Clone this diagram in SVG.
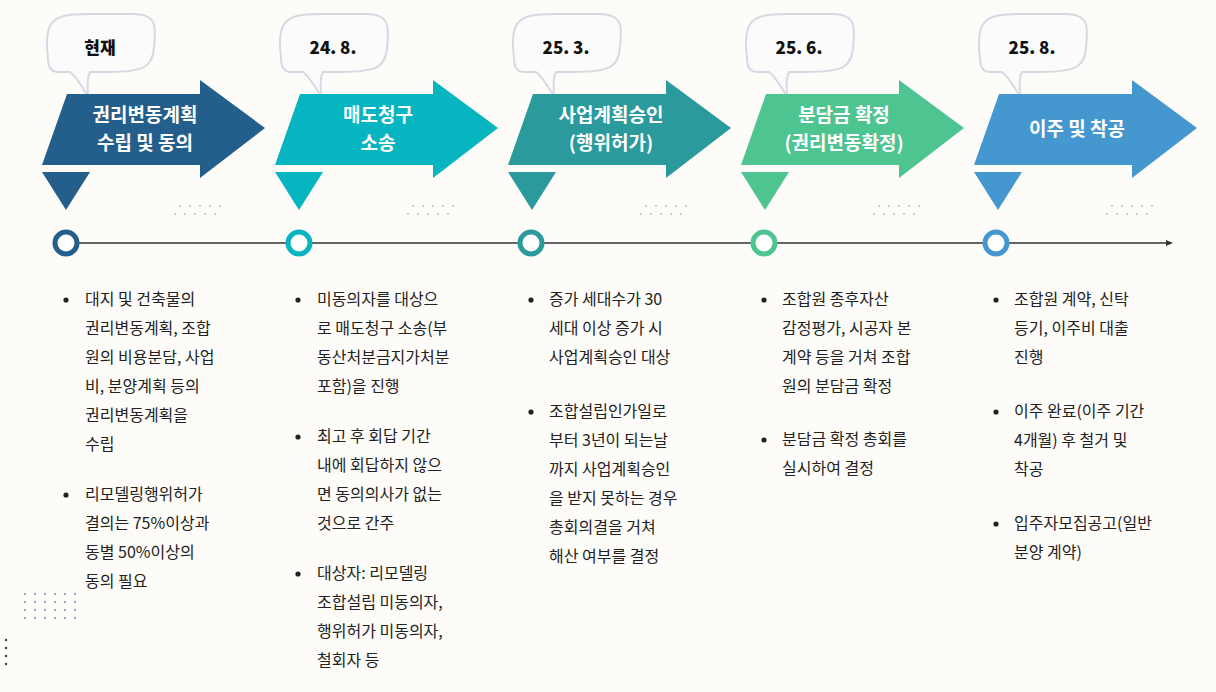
<svg xmlns="http://www.w3.org/2000/svg" width="1216" height="692" viewBox="0 0 1216 692">
<defs>
<style>
.t{font-family:"Noto Sans CJK KR","Noto Sans",sans-serif;font-size:19px;font-weight:bold;fill:#fff;text-anchor:middle}
.b{font-family:"Noto Sans CJK KR","Noto Sans",sans-serif;font-size:16px;fill:#222}
.d{font-family:"Noto Sans CJK KR","Noto Sans",sans-serif;font-size:17px;font-weight:900;fill:#111;text-anchor:middle}
.bub{fill:#fbfbfb;stroke:#d8d8e4;stroke-width:2}
.bub2{fill:none;stroke:#c9b9d4;stroke-width:1;stroke-dasharray:3 2}
.dot{fill:#bbb}
</style>
<g id="bubble">
<path d="M0,0 C-5,-38 5,-44 40,-44 L85,-44 C110,-44 108,-30 106,-10 C104,8 98,14 60,14 L42,14 C38,22 40,30 40,38 C34,30 30,20 22,14 L10,14 C2,14 0,8 0,0Z"/>
</g>
</defs>
<rect width="1216" height="692" fill="#fdfcf9"/>
<g id="connectors">
<line x1="66" y1="243" x2="1168" y2="243" stroke="#333" stroke-width="1.5"/>
<path d="M1166,240 L1173,243 L1166,246Z" fill="#333"/>
</g>
<g id="n1">
<use href="#bubble" x="48" y="58" class="bub"/>
<text x="100" y="54" class="d">현재</text>
<path d="M67,94 L200,94 L200,80 L265,128 L200,178 L200,165 L42,165Z" fill="#245e8a"/>
<path d="M42,172 L90,172 L66,210Z" fill="#245e8a"/>
<text x="145" y="122" class="t">권리변동계획</text><text x="145" y="150" class="t">수립 및 동의</text>
<circle cx="66" cy="243" r="11" fill="#fff" stroke="#245e8a" stroke-width="5"/>
<g class="b"><text x="85" y="305">대지 및 건축물의</text><text x="85" y="334">권리변동계획, 조합</text><text x="85" y="363">원의 비용분담, 사업</text><text x="85" y="392">비, 분양계획 등의</text><text x="85" y="421">권리변동계획을</text><text x="85" y="450">수립</text>
<text x="85" y="500">리모델링행위허가</text><text x="85" y="529">결의는 75%이상과</text><text x="85" y="558">동별 50%이상의</text><text x="85" y="587">동의 필요</text></g>
<circle cx="66" cy="300" r="2.6" fill="#222"/><circle cx="66" cy="495" r="2.6" fill="#222"/>
</g>
<g id="n2">
<use href="#bubble" x="281" y="58" class="bub"/>
<text x="333" y="54" class="d">24. 8.</text>
<path d="M300,94 L433,94 L433,80 L498,128 L433,178 L433,165 L275,165Z" fill="#06b5bf"/>
<path d="M275,172 L323,172 L299,210Z" fill="#06b5bf"/>
<text x="378" y="122" class="t">매도청구</text><text x="378" y="150" class="t">소송</text>
<circle cx="299" cy="243" r="11" fill="#fff" stroke="#06b5bf" stroke-width="5"/>
<g class="b"><text x="317" y="305">미동의자를 대상으</text><text x="317" y="334">로 매도청구 소송(부</text><text x="317" y="363">동산처분금지가처분</text><text x="317" y="392">포함)을 진행</text>
<text x="317" y="442">최고 후 회답 기간</text><text x="317" y="471">내에 회답하지 않으</text><text x="317" y="500">면 동의의사가 없는</text><text x="317" y="529">것으로 간주</text>
<text x="317" y="579">대상자: 리모델링</text><text x="317" y="608">조합설립 미동의자,</text><text x="317" y="637">행위허가 미동의자,</text><text x="317" y="666">철회자 등</text></g>
<circle cx="298" cy="300" r="2.6" fill="#222"/><circle cx="298" cy="437" r="2.6" fill="#222"/><circle cx="298" cy="574" r="2.6" fill="#222"/>
</g>
<g id="n3">
<use href="#bubble" x="514" y="58" class="bub"/>
<text x="566" y="54" class="d">25. 3.</text>
<path d="M533,94 L666,94 L666,80 L731,128 L666,178 L666,165 L508,165Z" fill="#2a9a9c"/>
<path d="M508,172 L556,172 L532,210Z" fill="#2a9a9c"/>
<text x="611" y="122" class="t">사업계획승인</text><text x="611" y="150" class="t">(행위허가)</text>
<circle cx="531" cy="243" r="11" fill="#fff" stroke="#2a9a9c" stroke-width="5"/>
<g class="b"><text x="549" y="305">증가 세대수가 30</text><text x="549" y="334">세대 이상 증가 시</text><text x="549" y="363">사업계획승인 대상</text>
<text x="549" y="417">조합설립인가일로</text><text x="549" y="446">부터 3년이 되는날</text><text x="549" y="475">까지 사업계획승인</text><text x="549" y="504">을 받지 못하는 경우</text><text x="549" y="533">총회의결을 거쳐</text><text x="549" y="562">해산 여부를 결정</text></g>
<circle cx="531" cy="300" r="2.6" fill="#222"/><circle cx="531" cy="412" r="2.6" fill="#222"/>
</g>
<g id="n4">
<use href="#bubble" x="747" y="58" class="bub"/>
<text x="799" y="54" class="d">25. 6.</text>
<path d="M766,94 L899,94 L899,80 L964,128 L899,178 L899,165 L741,165Z" fill="#4ec591"/>
<path d="M741,172 L789,172 L765,210Z" fill="#4ec591"/>
<text x="844" y="122" class="t">분담금 확정</text><text x="844" y="150" class="t">(권리변동확정)</text>
<circle cx="764" cy="243" r="11" fill="#fff" stroke="#4ec591" stroke-width="5"/>
<g class="b"><text x="782" y="305">조합원 종후자산</text><text x="782" y="334">감정평가, 시공자 본</text><text x="782" y="363">계약 등을 거쳐 조합</text><text x="782" y="392">원의 분담금 확정</text>
<text x="782" y="445">분담금 확정 총회를</text><text x="782" y="474">실시하여 결정</text></g>
<circle cx="764" cy="300" r="2.6" fill="#222"/><circle cx="764" cy="440" r="2.6" fill="#222"/>
</g>
<g id="n5">
<use href="#bubble" x="980" y="58" class="bub"/>
<text x="1032" y="54" class="d">25. 8.</text>
<path d="M999,94 L1132,94 L1132,80 L1197,128 L1132,178 L1132,165 L974,165Z" fill="#4598cf"/>
<path d="M974,172 L1022,172 L998,210Z" fill="#4598cf"/>
<text x="1077" y="136" class="t">이주 및 착공</text>
<circle cx="996" cy="243" r="11" fill="#fff" stroke="#4598cf" stroke-width="5"/>
<g class="b"><text x="1014" y="305">조합원 계약, 신탁</text><text x="1014" y="334">등기, 이주비 대출</text><text x="1014" y="363">진행</text>
<text x="1014" y="417">이주 완료(이주 기간</text><text x="1014" y="446">4개월) 후 철거 및</text><text x="1014" y="475">착공</text>
<text x="1014" y="529">입주자모집공고(일반</text><text x="1014" y="558">분양 계약)</text></g>
<circle cx="996" cy="300" r="2.6" fill="#222"/><circle cx="996" cy="412" r="2.6" fill="#222"/><circle cx="996" cy="524" r="2.6" fill="#222"/>
</g>
<g fill="#bbb">
<circle cx="180" cy="206" r="1"/><circle cx="190" cy="206" r="1"/><circle cx="200" cy="206" r="1"/><circle cx="210" cy="206" r="1"/><circle cx="220" cy="206" r="1"/>
<circle cx="175" cy="214" r="1"/><circle cx="185" cy="214" r="1"/><circle cx="195" cy="214" r="1"/><circle cx="205" cy="214" r="1"/><circle cx="215" cy="214" r="1"/>
<circle cx="413" cy="206" r="1"/><circle cx="423" cy="206" r="1"/><circle cx="433" cy="206" r="1"/><circle cx="443" cy="206" r="1"/><circle cx="453" cy="206" r="1"/>
<circle cx="408" cy="214" r="1"/><circle cx="418" cy="214" r="1"/><circle cx="428" cy="214" r="1"/><circle cx="438" cy="214" r="1"/><circle cx="448" cy="214" r="1"/>
<circle cx="646" cy="206" r="1"/><circle cx="656" cy="206" r="1"/><circle cx="666" cy="206" r="1"/><circle cx="676" cy="206" r="1"/><circle cx="686" cy="206" r="1"/>
<circle cx="641" cy="214" r="1"/><circle cx="651" cy="214" r="1"/><circle cx="661" cy="214" r="1"/><circle cx="671" cy="214" r="1"/><circle cx="681" cy="214" r="1"/>
<circle cx="879" cy="206" r="1"/><circle cx="889" cy="206" r="1"/><circle cx="899" cy="206" r="1"/><circle cx="909" cy="206" r="1"/><circle cx="919" cy="206" r="1"/>
<circle cx="874" cy="214" r="1"/><circle cx="884" cy="214" r="1"/><circle cx="894" cy="214" r="1"/><circle cx="904" cy="214" r="1"/><circle cx="914" cy="214" r="1"/>
<circle cx="1112" cy="206" r="1"/><circle cx="1122" cy="206" r="1"/><circle cx="1132" cy="206" r="1"/><circle cx="1142" cy="206" r="1"/><circle cx="1152" cy="206" r="1"/>
<circle cx="1107" cy="214" r="1"/><circle cx="1117" cy="214" r="1"/><circle cx="1127" cy="214" r="1"/><circle cx="1137" cy="214" r="1"/><circle cx="1147" cy="214" r="1"/>
</g>
<g fill="#6a8fc0">
<circle cx="25" cy="594" r="1"/><circle cx="35" cy="594" r="1"/><circle cx="45" cy="594" r="1"/><circle cx="55" cy="594" r="1"/><circle cx="65" cy="594" r="1"/><circle cx="75" cy="594" r="1"/>
<circle cx="25" cy="602" r="1"/><circle cx="35" cy="602" r="1"/><circle cx="45" cy="602" r="1"/><circle cx="55" cy="602" r="1"/><circle cx="65" cy="602" r="1"/><circle cx="75" cy="602" r="1"/>
<circle cx="25" cy="610" r="1"/><circle cx="35" cy="610" r="1"/><circle cx="45" cy="610" r="1"/><circle cx="55" cy="610" r="1"/><circle cx="65" cy="610" r="1"/><circle cx="75" cy="610" r="1"/>
<circle cx="25" cy="618" r="1"/><circle cx="35" cy="618" r="1"/><circle cx="45" cy="618" r="1"/><circle cx="55" cy="618" r="1"/><circle cx="65" cy="618" r="1"/><circle cx="75" cy="618" r="1"/>
<circle cx="6" cy="640" r="1.2" fill="#345"/><circle cx="6" cy="648" r="1.2" fill="#345"/><circle cx="6" cy="656" r="1.2" fill="#345"/><circle cx="6" cy="664" r="1.2" fill="#345"/>
</g>
</svg>
